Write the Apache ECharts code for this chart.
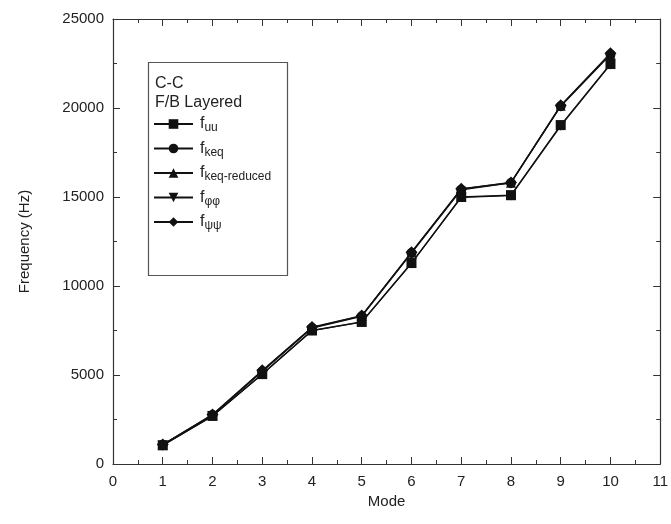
<!DOCTYPE html>
<html><head><meta charset="utf-8">
<script src="https://cdn.jsdelivr.net/npm/echarts@6/dist/echarts.min.js"></script>
<style>html,body{margin:0;padding:0;background:#fff}#c{width:671px;height:524px}</style>
</head><body><div id="c"></div>
<script>
const modes = [1,2,3,4,5,6,7,8,9,10];
const fUU = [1050, 2700, 5050, 7500, 7980, 11290, 15000, 15100, 19040, 22470];
const fKeq = [1080, 2750, 5200, 7640, 8300, 11850, 15400, 15790, 20100, 23000];
const fKeqReduced = [1080, 2760, 5230, 7660, 8320, 11880, 15450, 15800, 20120, 23050];
const fPhiPhi = [1040, 2690, 5040, 7490, 7970, 11270, 14980, 15080, 19000, 22450];
const fPsiPsi = [1090, 2780, 5260, 7690, 8340, 11900, 15460, 15820, 20150, 23080];
const seriesNames = ['uu','keq','keq-reduced','φφ','ψψ'];
const seriesData = [fUU, fKeq, fKeqReduced, fPhiPhi, fPsiPsi];
const symbols = ['rect','circle','triangle','triangle','diamond'];
const rotations = [0,0,0,180,0];
const xTicks = [0,1,2,3,4,5,6,7,8,9,10,11];
const yTicks = [0,5000,10000,15000,20000,25000];

const FONT = '"Liberation Sans", Arial, sans-serif';
const TXT = '#222';
const chart = echarts.init(document.getElementById('c'), null, {renderer:'canvas'});

function axisBase(extra){
  return Object.assign({
    axisLine:{show:true, onZero:false, lineStyle:{color:'#333', width:1.2}},
    axisTick:{show:true, inside:true, length:7, lineStyle:{color:'#333', width:1}},
    minorTick:{show:true, splitNumber:2, length:4, lineStyle:{color:'#333', width:1}},
    splitLine:{show:false},
  }, extra);
}

const option = {
  animation:false,
  backgroundColor:'#fff',
  grid:{left:113, right:9, top:19, bottom:60, containLabel:false},
  xAxis:[
    axisBase({type:'value', min:xTicks[0], max:xTicks[xTicks.length-1], interval:1, position:'bottom',
      name:'Mode', nameLocation:'middle', nameGap:30,
      nameTextStyle:{fontFamily:FONT, fontSize:15, color:TXT},
      axisLabel:{fontFamily:FONT, fontSize:15, color:TXT, margin:10}}),
    axisBase({type:'value', min:xTicks[0], max:xTicks[xTicks.length-1], interval:1, position:'top',
      axisLabel:{show:false}})
  ],
  yAxis:[
    axisBase({type:'value', min:yTicks[0], max:yTicks[yTicks.length-1], interval:5000, position:'left',
      name:'Frequency (Hz)', nameLocation:'middle', nameGap:81, nameRotate:90,
      nameTextStyle:{fontFamily:FONT, fontSize:15, color:TXT},
      axisLabel:{fontFamily:FONT, fontSize:15, color:TXT, margin:9, formatter: v => String(v)}}),
    axisBase({type:'value', min:yTicks[0], max:yTicks[yTicks.length-1], interval:5000, position:'right',
      axisLabel:{show:false}})
  ],
  legend:{
    orient:'vertical', left:153, top:114, padding:0, itemGap:4.5, itemWidth:39, itemHeight:12,
    data: seriesNames.map(n=>({name:n})),
    formatter: n => '{f|f}{s|' + n + '}',
    textStyle:{fontFamily:FONT, color:TXT, padding:[0,0,0,2],
      rich:{
        f:{fontFamily:FONT, fontSize:16, color:TXT, lineHeight:16},
        s:{fontFamily:FONT, fontSize:12, color:TXT, padding:[8,0,0,0], lineHeight:14}
      }
    },
    selectedMode:false
  },
  graphic:[
    {type:'rect', shape:{x:148.5, y:62.5, width:139, height:213}, style:{fill:'none', stroke:'#555', lineWidth:1.2}, z:0},
    {type:'text', left:155, top:76, style:{text:'C-C', fontFamily:FONT, fontSize:16, fill:TXT}},
    {type:'text', left:155, top:95, style:{text:'F/B Layered', fontFamily:FONT, fontSize:16, fill:TXT}}
  ],
  series: seriesNames.map((n,i)=>({
    name:n, type:'line', xAxisIndex:0, yAxisIndex:0,
    data: modes.map((m,j)=>[m, seriesData[i][j]]),
    symbol:symbols[i], symbolRotate:rotations[i], symbolSize: symbols[i]==='circle'?10:(symbols[i]==='diamond'?12:10),
    showAllSymbol:true,
    lineStyle:{color:'#111', width:1.3},
    itemStyle:{color:'#111', borderWidth:0},
    emphasis:{disabled:true}
  }))
};
chart.setOption(option);
</script>
</body></html>
